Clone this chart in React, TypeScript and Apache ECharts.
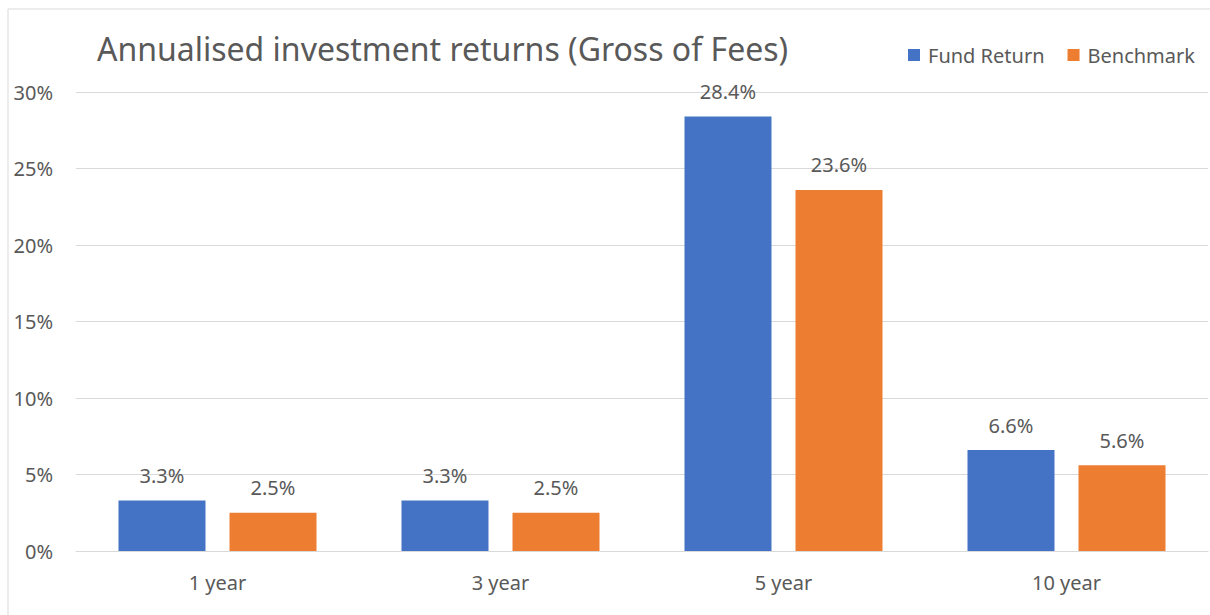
import React, { useEffect, useRef } from "react";
import * as echarts from "echarts";

const categories = ["1 year", "3 year", "5 year", "10 year"];
const fundReturn = [3.3, 3.3, 28.4, 6.6];
const benchmark = [2.5, 2.5, 23.6, 5.6];
const seriesNames = ["Fund Return", "Benchmark"];
const titleText = "Annualised investment returns (Gross of Fees)";

const FONT = "'Noto Sans', 'Open Sans', sans-serif";
const TEXT = "#595959";

export default function App() {
  const ref = useRef<HTMLDivElement>(null);
  useEffect(() => {
    document.body.style.margin = "0";
    document.body.style.overflow = "hidden";
    const chart = echarts.init(ref.current!, null, { renderer: "svg" });
    const label = {
      show: true,
      position: "top",
      distance: 15,
      fontSize: 20,
      color: TEXT,
      fontFamily: FONT,
      formatter: (p: any) => p.value.toFixed(1) + "%",
    };
    chart.setOption({
      animation: false,
      backgroundColor: "#ffffff",
      textStyle: { fontFamily: FONT },
      graphic: [
        {
          type: "rect",
          shape: { x: 8, y: 9, width: 1400, height: 800 },
          style: { fill: "none", stroke: "#d9d9d9", lineWidth: 1 },
          z: -1,
        },
      ],
      title: {
        text: titleText,
        left: 92,
        top: 27,
        textStyle: { fontSize: 32, fontWeight: "normal", color: TEXT, fontFamily: FONT },
      },
      legend: {
        data: seriesNames,
        left: 903,
        top: 40,
        itemWidth: 12,
        itemHeight: 12,
        itemGap: 23,
        icon: "rect",
        textStyle: { fontSize: 20, color: TEXT, fontFamily: FONT, padding: [0, 0, 0, 3] },
      },
      grid: { left: 76, right: 2, top: 92, bottom: 64, containLabel: false },
      xAxis: {
        type: "category",
        data: categories,
        axisLine: { show: true, lineStyle: { color: "#d9d9d9" } },
        axisTick: { show: false },
        axisLabel: { fontSize: 20, color: TEXT, margin: 21, fontFamily: FONT },
      },
      yAxis: {
        type: "value",
        min: 0,
        max: 30,
        interval: 5,
        axisLine: { show: false },
        axisTick: { show: false },
        splitLine: { lineStyle: { color: "#d9d9d9", width: 1 } },
        axisLabel: { formatter: "{value}%", fontSize: 20, color: TEXT, margin: 23, fontFamily: FONT },
      },
      series: [
        {
          name: seriesNames[0],
          type: "bar",
          data: fundReturn,
          barWidth: 87,
          barGap: "27.6%",
          itemStyle: { color: "#4472C4" },
          label,
        },
        {
          name: seriesNames[1],
          type: "bar",
          data: benchmark,
          barWidth: 87,
          itemStyle: { color: "#ED7D31" },
          label,
        },
      ],
    });
    return () => chart.dispose();
  }, []);
  return <div ref={ref} style={{ position: "fixed", left: 0, top: 0, width: 1210, height: 615 }} />;
}
